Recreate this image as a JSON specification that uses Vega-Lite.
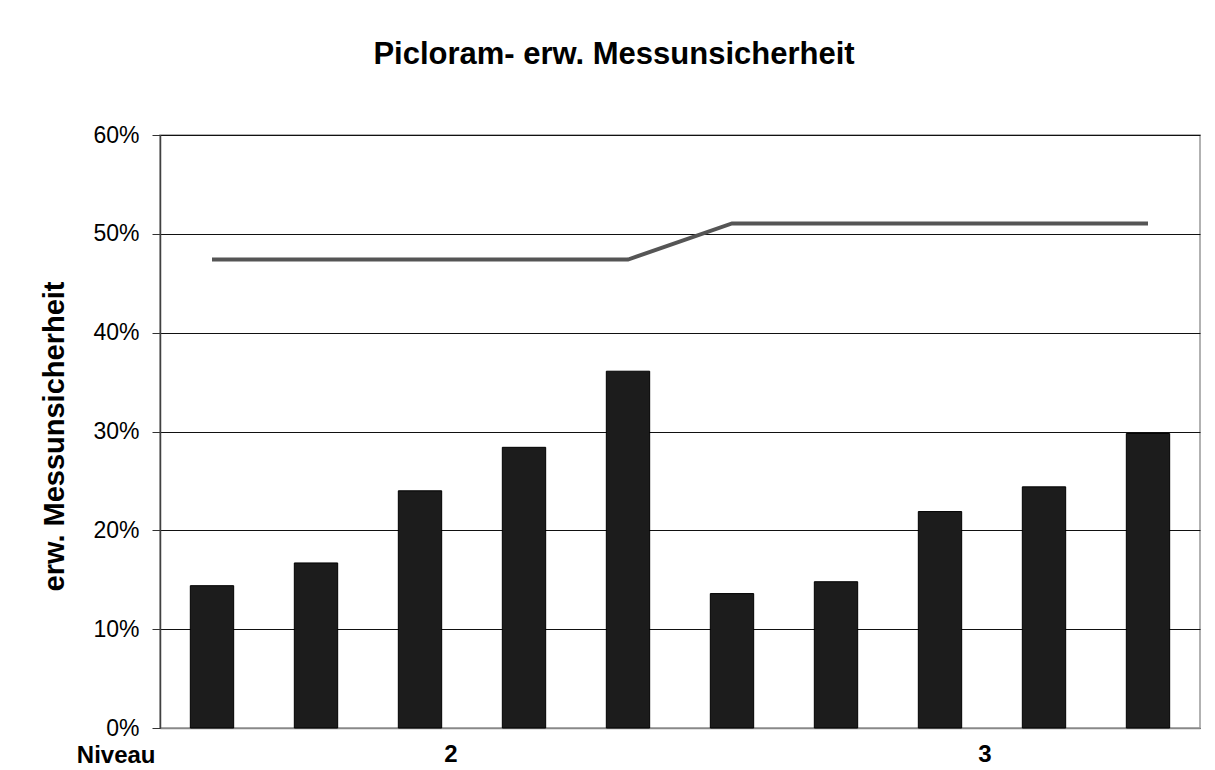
{
  "$schema": "https://vega.github.io/schema/vega-lite/v6.json",
  "autosize": "none",
  "width": 1040,
  "height": 593,
  "padding": {"left": 160, "top": 135, "right": 15, "bottom": 42},
  "background": "white",
  "config": {
    "font": "Liberation Sans",
    "view": {"stroke": "#999999", "strokeWidth": 1.5}
  },
  "title": {
    "text": "Picloram- erw. Messunsicherheit",
    "font": "Liberation Sans",
    "fontSize": 31,
    "fontWeight": "bold",
    "color": "#000000",
    "anchor": "middle",
    "dx": -66,
    "baseline": "alphabetic",
    "offset": 29
  },
  "data": {
    "values": [
      {"n": 1, "niveau": "2", "u": 0.144, "limit": 0.474},
      {"n": 2, "niveau": "2", "u": 0.167, "limit": 0.474},
      {"n": 3, "niveau": "2", "u": 0.240, "limit": 0.474},
      {"n": 4, "niveau": "2", "u": 0.284, "limit": 0.474},
      {"n": 5, "niveau": "2", "u": 0.361, "limit": 0.474},
      {"n": 6, "niveau": "3", "u": 0.136, "limit": 0.5105},
      {"n": 7, "niveau": "3", "u": 0.148, "limit": 0.5105},
      {"n": 8, "niveau": "3", "u": 0.219, "limit": 0.5105},
      {"n": 9, "niveau": "3", "u": 0.244, "limit": 0.5105},
      {"n": 10, "niveau": "3", "u": 0.298, "limit": 0.5105}
    ]
  },
  "encoding": {
    "x": {
      "field": "n",
      "type": "ordinal",
      "scale": {"paddingInner": 0.583, "paddingOuter": 0.2915},
      "axis": {
        "title": "Niveau",
        "titleFont": "Liberation Sans",
        "titleFontSize": 24,
        "titleFontWeight": "bold",
        "titleColor": "#000000",
        "titleAlign": "right",
        "titleBaseline": "alphabetic",
        "titleX": -5,
        "titleY": 34,
        "labelExpr": "datum.value == 3 ? '2' : (datum.value == 8 ? '3' : '')",
        "labelAngle": 0,
        "labelFont": "Liberation Sans",
        "labelFontSize": 24,
        "labelFontWeight": "bold",
        "labelColor": "#000000",
        "labelBaseline": "alphabetic",
        "labelPadding": 33,
        "labelOffset": {"condition": {"test": "datum.value == 8", "value": 45}, "value": 31},
        "ticks": false,
        "tickSize": 0,
        "domainColor": "#888888",
        "domainWidth": 1.5,
        "grid": false
      }
    }
  },
  "layer": [
    {
      "mark": {"type": "bar", "fill": "#1c1c1c", "stroke": "#000000", "strokeWidth": 1},
      "encoding": {
        "y": {
          "field": "u",
          "type": "quantitative",
          "scale": {"domain": [0, 0.6], "nice": false},
          "axis": {
            "title": "erw. Messunsicherheit",
            "titleFont": "Liberation Sans",
            "titleFontSize": 29,
            "titleFontWeight": "bold",
            "titleColor": "#000000",
            "titleAngle": -90,
            "titleAlign": "center",
            "titleBaseline": "alphabetic",
            "titleX": -97,
            "titleY": 301,
            "values": [0, 0.1, 0.2, 0.3, 0.4, 0.5, 0.6],
            "format": ".0%",
            "labelFont": "Liberation Sans",
            "labelFontSize": 23,
            "labelColor": "#000000",
            "labelPadding": 13,
            "tickSize": 8,
            "tickColor": "#333333",
            "domainColor": "#404040",
            "domainWidth": 1.5,
            "grid": true,
            "gridColor": "#111111",
            "gridWidth": 1
          }
        }
      }
    },
    {
      "mark": {"type": "line", "color": "#555555", "strokeWidth": 4},
      "encoding": {
        "y": {"field": "limit", "type": "quantitative"}
      }
    }
  ]
}
